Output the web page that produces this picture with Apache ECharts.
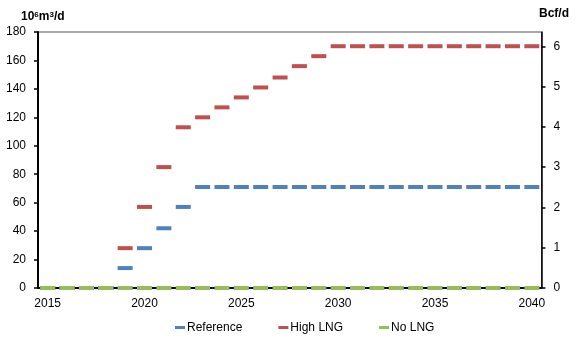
<!DOCTYPE html>
<html>
<head>
<meta charset="utf-8">
<script src="https://cdn.jsdelivr.net/npm/echarts@6/dist/echarts.min.js"></script>
<style>html,body{margin:0;padding:0;background:#fff}#c{width:580px;height:342px}</style>
</head>
<body>
<div id="c"></div>
<script>
var years = ['2015','2016','2017','2018','2019','2020','2021','2022','2023','2024','2025','2026','2027','2028','2029','2030','2031','2032','2033','2034','2035','2036','2037','2038','2039','2040'];
var reference = [0,0,0,0,14,28,42,57,71,71,71,71,71,71,71,71,71,71,71,71,71,71,71,71,71,71];
var highLNG = [0,0,0,0,28,57,85,113,120,127,134,141,148,156,163,170,170,170,170,170,170,170,170,170,170,170];
var noLNG = [0,0,0,0,0,0,0,0,0,0,0,0,0,0,0,0,0,0,0,0,0,0,0,0,0,0];
var leftTicks = {min:0, max:180, interval:20};
var rightTicks = {min:0, max:180/28.3168, interval:1};

var FONT = 'Liberation Sans';
var chart = echarts.init(document.getElementById('c'));
function dashSeries(name, data, color){
  return {name:name, type:'scatter', data:data, yAxisIndex:0, symbol:'rect', symbolSize:[15,4],
    itemStyle:{color:color, opacity:1}, emphasis:{disabled:true}, animation:false};
}
chart.setOption({
  animation:false,
  textStyle:{fontFamily:FONT},
  title:[
    {text:'10{s|6}m{s|3}/d', left:16, top:6, textStyle:{fontFamily:FONT, fontSize:12, fontWeight:'bold', color:'#000',
      rich:{s:{fontSize:8, fontWeight:'bold', verticalAlign:'top', padding:[0,0,4,0], fontFamily:FONT}}}},
    {text:'Bcf/d', left:539, top:8, padding:0, textStyle:{fontFamily:FONT, fontSize:12, fontWeight:'bold', color:'#000'}}
  ],
  legend:{left:175, top:321.5, padding:0, icon:'rect', itemWidth:10, itemHeight:3, itemGap:36,
    textStyle:{fontFamily:FONT, fontSize:12, color:'#000', padding:[0,0,0,-3]},
    data:['Reference','High LNG','No LNG']},
  grid:{left:38, right:38.5, top:32, bottom:54, show:true, borderColor:'#555', borderWidth:1},
  xAxis:{type:'category', data:years, boundaryGap:true,
    axisLine:{lineStyle:{color:'#000', width:2}},
    axisTick:{interval:4, length:4, lineStyle:{color:'#000', width:1.5}},
    axisLabel:{interval:4, margin:10, fontSize:12, color:'#000', fontFamily:FONT},
    splitLine:{show:false}},
  yAxis:[
    {type:'value', min:leftTicks.min, max:leftTicks.max, interval:leftTicks.interval, position:'left',
      axisLine:{show:true, lineStyle:{color:'#000', width:2}},
      axisTick:{show:true, length:4, lineStyle:{color:'#000', width:1.5}},
      axisLabel:{margin:12, fontSize:12, color:'#000', fontFamily:FONT},
      splitLine:{show:false}},
    {type:'value', min:rightTicks.min, max:rightTicks.max, interval:rightTicks.interval, position:'right',
      axisLine:{show:true, lineStyle:{color:'#000', width:1.5}},
      axisTick:{show:true, length:4, lineStyle:{color:'#000', width:1.5}},
      axisLabel:{margin:12, fontSize:12, color:'#000', fontFamily:FONT, showMaxLabel:false,
        formatter:function(v){ return Math.abs(v-Math.round(v))<1e-6 ? String(Math.round(v)) : ''; }},
      splitLine:{show:false}}
  ],
  series:[
    dashSeries('Reference', reference, '#4F81BD'),
    dashSeries('High LNG', highLNG, '#C0504D'),
    dashSeries('No LNG', noLNG, '#9BBB59')
  ]
});
</script>
</body>
</html>
